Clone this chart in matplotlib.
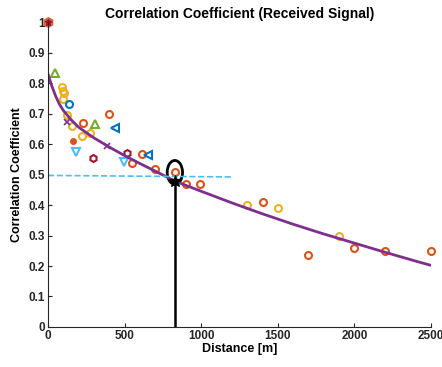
"""
Correlation coefficient of the received signal versus distance.
"""

import matplotlib

matplotlib.use("Agg")
import matplotlib.pyplot as plt
from matplotlib.patches import Ellipse

plt.rcParams["font.family"] = ["Liberation Sans", "DejaVu Sans"]
plt.rcParams["font.weight"] = "bold"

# =========================
# Data
# =========================
# fitted curve
fit_dist = [0, 25, 50, 75, 100, 150, 200, 300, 400, 500, 600, 700, 830, 1000, 1200, 1400,
            1600, 1800, 2000, 2200, 2400, 2500]
fit_corr = [0.83, 0.79, 0.757, 0.73, 0.71, 0.68, 0.655, 0.62, 0.59, 0.562, 0.536, 0.511, 0.478,
            0.445, 0.407, 0.371, 0.337, 0.305, 0.275, 0.245, 0.216, 0.202]

# measured points, grouped by marker
red_dist = [230, 398, 546, 611, 700, 830, 900, 990, 1400, 1700, 2000, 2200, 2500]
red_corr = [0.668, 0.698, 0.538, 0.567, 0.518, 0.507, 0.468, 0.468, 0.411, 0.237, 0.26, 0.25, 0.25]

yellow_dist = [89, 100, 104, 100, 126, 154, 220, 274, 1300, 1500, 1900]
yellow_corr = [0.786, 0.775, 0.766, 0.748, 0.695, 0.66, 0.627, 0.637, 0.40, 0.389, 0.30]

blue_dist = [139]
blue_corr = [0.731]

left_tri_dist = [437, 655]
left_tri_corr = [0.651, 0.564]

down_tri_dist = [181, 496]
down_tri_corr = [0.573, 0.542]

hex_dist = [296, 514]
hex_corr = [0.553, 0.569]

up_tri_dist = [46, 307]
up_tri_corr = [0.834, 0.665]

dot_dist = [165]
dot_corr = [0.61]

plus_dist = [387, 122]
plus_corr = [0.594, 0.672]

# reference threshold and chosen distance
thr_dist = [0, 1200]
thr_corr = [0.497, 0.492]
pick_dist = 830
pick_corr = 0.478
ring_center = (828, 0.507)

x_ticks = [0, 500, 1000, 1500, 2000, 2500]
y_ticks = [0, 0.1, 0.2, 0.3, 0.4, 0.5, 0.6, 0.7, 0.8, 0.9, 1]
y_labels = ["0", "0.1", "0.2", "0.3", "0.4", "0.5", "0.6", "0.7", "0.8", "0.9", "1"]

BLUE = "#0072BD"
RED = "#D95319"
YELLOW = "#EDB120"
PURPLE = "#7E2F8E"
GREEN = "#77AC30"
LBLUE = "#4DBEEE"
DRED = "#A2142F"


def main() -> None:
    fig = plt.figure(figsize=(4.42, 3.67), dpi=100)
    ax = fig.add_axes([0.1086, 0.109, 0.8666, 0.831])

    # markers at zero distance, all stacked at 1
    ax.plot([0], [1], marker="h", color=RED, ms=7, mfc=RED, ls="none", clip_on=False, alpha=0.8)
    ax.plot([0], [1], marker="o", color=BLUE, ms=3, mfc=BLUE, ls="none", clip_on=False)
    ax.plot([0], [1], marker="*", color=DRED, ms=5, ls="none", clip_on=False)

    ax.plot(yellow_dist, yellow_corr, "o", mec=YELLOW, mfc="none", ms=5, mew=1.5)
    ax.plot(red_dist, red_corr, "o", mec=RED, mfc="none", ms=5, mew=1.5, clip_on=False)
    ax.plot(blue_dist, blue_corr, "o", mec=BLUE, mfc="none", ms=5, mew=1.5)
    ax.plot(up_tri_dist, up_tri_corr, "^", mec=GREEN, mfc="none", ms=6, mew=1.5)
    ax.plot(left_tri_dist, left_tri_corr, "<", mec=BLUE, mfc="none", ms=6, mew=1.5)
    ax.plot(down_tri_dist, down_tri_corr, "v", mec=LBLUE, mfc="none", ms=6, mew=1.5)
    ax.plot(hex_dist, hex_corr, "h", mec=DRED, mfc="none", ms=5, mew=1.5)
    ax.plot(dot_dist, dot_corr, "o", color=RED, ms=4)
    ax.plot(plus_dist, plus_corr, "x", color=PURPLE, ms=4, mew=1.2)

    ax.plot(fit_dist, fit_corr, color=PURPLE, lw=2)
    ax.plot(thr_dist, thr_corr, "--", color=LBLUE, lw=1.2)

    ax.plot([pick_dist, pick_dist], [0, pick_corr], color="black", lw=1.8)
    ax.plot([pick_dist], [pick_corr], marker="*", color="black", ms=9)
    ax.add_patch(Ellipse(ring_center, width=100, height=0.078, fill=False, ec="black", lw=2))

    ax.set_xlim(0, 2500)
    ax.set_ylim(0, 1)
    ax.set_xticks(x_ticks)
    ax.set_yticks(y_ticks)
    ax.set_yticklabels(y_labels)
    ax.tick_params(direction="in", length=3, labelsize=8.5, colors="#262626", pad=2)
    for lab in ax.get_xticklabels() + ax.get_yticklabels():
        lab.set_fontweight("bold")
    for side in ("top", "right"):
        ax.spines[side].set_visible(False)
    for side in ("left", "bottom"):
        ax.spines[side].set_color("#262626")

    ax.set_xlabel("Distance [m]", fontsize=9, fontweight="bold", labelpad=1)
    ax.set_ylabel("Correlation Coefficient", fontsize=9, fontweight="bold", labelpad=4)
    ax.set_title("Correlation Coefficient (Received Signal)", fontsize=10, fontweight="bold", pad=3)

    fig.savefig("out.png", dpi=100)
    plt.close(fig)


if __name__ == "__main__":
    main()
